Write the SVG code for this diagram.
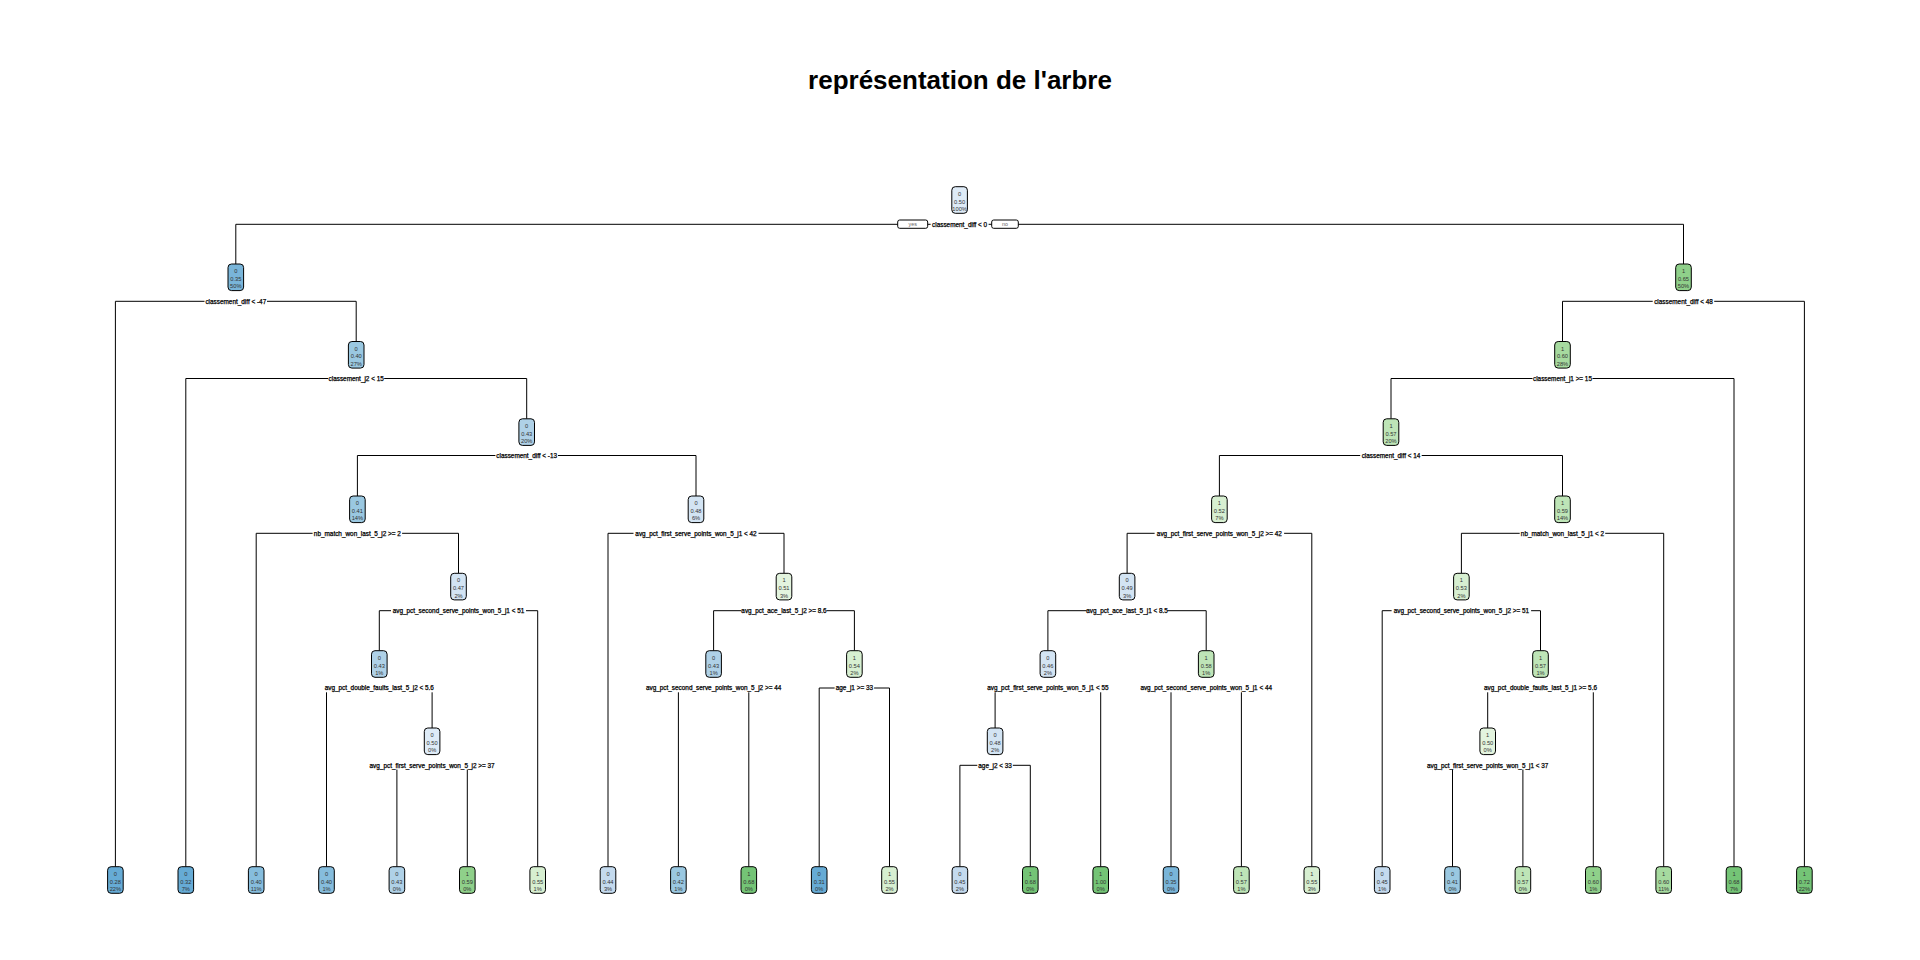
<svg xmlns="http://www.w3.org/2000/svg" width="1920" height="960" viewBox="0 0 1920 960">
<style>
.title{font-family:"Liberation Sans",Arial,sans-serif;font-weight:bold;font-size:26px;fill:#000;text-anchor:middle}
.conn path{fill:none;stroke:#000;stroke-width:1}
.lbl rect{fill:#fff;stroke:none}
.lbl text{font-family:"Liberation Sans",Arial,sans-serif;font-size:6.4px;fill:#000;stroke:#000;stroke-width:0.25;text-anchor:middle}
.node rect{stroke:#000;stroke-width:1}
.node text{font-family:"Liberation Sans",Arial,sans-serif;font-size:5.7px;fill:#333;text-anchor:middle}
.yn rect{fill:#fff;stroke:#000;stroke-width:1}
.yn text{font-family:"Liberation Sans",Arial,sans-serif;font-size:5.4px;fill:#666;text-anchor:middle}
.b1{fill:#66ABD5}.b2{fill:#79B5D9}.b2b{fill:#86BDDD}.b3{fill:#9AC8E1}.b4{fill:#AFD1E7}.b5{fill:#C4DAEE}.b6{fill:#D3E4F3}.b7{fill:#DEEBF7}
.g1{fill:#E3F4DE}.g2{fill:#D7EFD1}.g3{fill:#BEE5B7}.g4{fill:#A6DA9F}.g5{fill:#8FD08A}.g6{fill:#74C476}
</style>
<rect width="1920" height="960" fill="#fff"/>
<text class="title" x="960" y="89">représentation de l'arbre</text>

<g id="connectors" class="conn">
<path d="M235.8,264V224.3H1683.5V264"/>
<path d="M115.4,866.7V301.3H356.2V341.5"/>
<path d="M1562.5,341.5V301.3H1804.4V866.7"/>
<path d="M185.8,866.7V378.5H526.7V418.8"/>
<path d="M1391,418.8V378.5H1734V866.7"/>
<path d="M357.4,496V455.5H696V496"/>
<path d="M1219.4,496V455.5H1562.5V496"/>
<path d="M256.2,866.7V533.3H458.5V573.3"/>
<path d="M608,866.7V533.3H784V573.3"/>
<path d="M1127.1,573.3V533.3H1311.8V866.7"/>
<path d="M1461.4,573.3V533.3H1663.7V866.7"/>
<path d="M379.3,650.7V610.7H537.7V866.7"/>
<path d="M713.6,650.7V610.7H854.4V650.7"/>
<path d="M1047.9,650.7V610.7H1206.2V650.7"/>
<path d="M1382.2,866.7V610.7H1540.5V650.7"/>
<path d="M326.5,866.7V688H432.1V728"/>
<path d="M678.4,866.7V688H748.8V866.7"/>
<path d="M819.2,866.7V688H889.5V866.7"/>
<path d="M995.1,728V688H1100.7V866.7"/>
<path d="M1171,866.7V688H1241.4V866.7"/>
<path d="M1487.7,728V688H1593.3V866.7"/>
<path d="M396.9,866.7V765.3H467.3V866.7"/>
<path d="M959.9,866.7V765.3H1030.3V866.7"/>
<path d="M1452.5,866.7V765.3H1522.9V866.7"/>
</g>

<g id="split-labels" class="lbl">
<rect x="930.6" y="220.3" width="58" height="8.3"/><text x="959.6" y="226.6">classement_diff &lt; 0</text>
<rect x="204.5" y="297.3" width="62.5" height="8.3"/><text x="235.8" y="303.6">classement_diff &lt; -47</text>
<rect x="1652.7" y="297.3" width="61.5" height="8.3"/><text x="1683.5" y="303.6">classement_diff &lt; 48</text>
<rect x="328.2" y="374.5" width="56" height="8.3"/><text x="356.2" y="380.8">classement_j2 &lt; 15</text>
<rect x="1532.5" y="374.5" width="60" height="8.3"/><text x="1562.5" y="380.8">classement_j1 &gt;= 15</text>
<rect x="495.4" y="451.5" width="62.5" height="8.3"/><text x="526.7" y="457.8">classement_diff &lt; -13</text>
<rect x="1360.2" y="451.5" width="61.5" height="8.3"/><text x="1391" y="457.8">classement_diff &lt; 14</text>
<rect x="312.6" y="529.3" width="89.5" height="8.3"/><text x="357.4" y="535.6">nb_match_won_last_5_j2 &gt;= 2</text>
<rect x="633.5" y="529.3" width="125" height="8.3"/><text x="696" y="535.6">avg_pct_first_serve_points_won_5_j1 &lt; 42</text>
<rect x="1154.6" y="529.3" width="129.5" height="8.3"/><text x="1219.4" y="535.6">avg_pct_first_serve_points_won_5_j2 &gt;= 42</text>
<rect x="1519.7" y="529.3" width="85.5" height="8.3"/><text x="1562.5" y="535.6">nb_match_won_last_5_j1 &lt; 2</text>
<rect x="391" y="606.7" width="135" height="8.3"/><text x="458.5" y="613">avg_pct_second_serve_points_won_5_j1 &lt; 51</text>
<rect x="741.5" y="606.7" width="85" height="8.3"/><text x="784" y="613">avg_pct_ace_last_5_j2 &gt;= 8.6</text>
<rect x="1086.8" y="606.7" width="80.5" height="8.3"/><text x="1127.1" y="613">avg_pct_ace_last_5_j1 &lt; 8.5</text>
<rect x="1391.6" y="606.7" width="139.5" height="8.3"/><text x="1461.4" y="613">avg_pct_second_serve_points_won_5_j2 &gt;= 51</text>
<rect x="323.5" y="684" width="111.5" height="8.3"/><text x="379.3" y="690.3">avg_pct_double_faults_last_5_j2 &lt; 5.6</text>
<rect x="644.1" y="684" width="139" height="8.3"/><text x="713.6" y="690.3">avg_pct_second_serve_points_won_5_j2 &gt;= 44</text>
<rect x="834.6" y="684" width="39.5" height="8.3"/><text x="854.4" y="690.3">age_j1 &gt;= 33</text>
<rect x="985.1" y="684" width="125.5" height="8.3"/><text x="1047.9" y="690.3">avg_pct_first_serve_points_won_5_j1 &lt; 55</text>
<rect x="1138.4" y="684" width="135.5" height="8.3"/><text x="1206.2" y="690.3">avg_pct_second_serve_points_won_5_j1 &lt; 44</text>
<rect x="1482.7" y="684" width="115.5" height="8.3"/><text x="1540.5" y="690.3">avg_pct_double_faults_last_5_j1 &gt;= 5.6</text>
<rect x="367.1" y="761.3" width="130" height="8.3"/><text x="432.1" y="767.6">avg_pct_first_serve_points_won_5_j2 &gt;= 37</text>
<rect x="977.3" y="761.3" width="35.5" height="8.3"/><text x="995.1" y="767.6">age_j2 &lt; 33</text>
<rect x="1424.9" y="761.3" width="125.5" height="8.3"/><text x="1487.7" y="767.6">avg_pct_first_serve_points_won_5_j1 &lt; 37</text>
</g>

<g id="yes-no" class="yn">
<rect x="897.7" y="220" width="30" height="8.3" rx="2"/><text x="912.7" y="226.3">yes</text>
<rect x="991.7" y="220" width="26.6" height="8.3" rx="2"/><text x="1005" y="226.3">no</text>
</g>

<g id="nodes" class="node">
<g id="n1"><rect class="b7" x="951.8" y="186.7" width="15.6" height="26.6" rx="3.5"/><text x="959.6" y="195.7">0<tspan x="959.6" dy="7.8">0.50</tspan><tspan x="959.6" dy="7.6">100%</tspan></text></g>
<g id="n2"><rect class="b2" x="228" y="264" width="15.6" height="26.6" rx="3.5"/><text x="235.8" y="273">0<tspan x="235.8" dy="7.8">0.35</tspan><tspan x="235.8" dy="7.6">50%</tspan></text></g>
<g id="n3"><rect class="g5" x="1675.7" y="264" width="15.6" height="26.6" rx="3.5"/><text x="1683.5" y="273">1<tspan x="1683.5" dy="7.8">0.65</tspan><tspan x="1683.5" dy="7.6">50%</tspan></text></g>
<g id="n4"><rect class="b3" x="348.4" y="341.5" width="15.6" height="26.6" rx="3.5"/><text x="356.2" y="350.5">0<tspan x="356.2" dy="7.8">0.40</tspan><tspan x="356.2" dy="7.6">27%</tspan></text></g>
<g id="n7"><rect class="g4" x="1554.7" y="341.5" width="15.6" height="26.6" rx="3.5"/><text x="1562.5" y="350.5">1<tspan x="1562.5" dy="7.8">0.60</tspan><tspan x="1562.5" dy="7.6">28%</tspan></text></g>
<g id="n9"><rect class="b4" x="518.9" y="418.8" width="15.6" height="26.6" rx="3.5"/><text x="526.7" y="427.8">0<tspan x="526.7" dy="7.8">0.43</tspan><tspan x="526.7" dy="7.6">20%</tspan></text></g>
<g id="n14"><rect class="g3" x="1383.2" y="418.8" width="15.6" height="26.6" rx="3.5"/><text x="1391" y="427.8">1<tspan x="1391" dy="7.8">0.57</tspan><tspan x="1391" dy="7.6">20%</tspan></text></g>
<g id="n18"><rect class="b3" x="349.6" y="496" width="15.6" height="26.6" rx="3.5"/><text x="357.4" y="505">0<tspan x="357.4" dy="7.8">0.41</tspan><tspan x="357.4" dy="7.6">14%</tspan></text></g>
<g id="n19"><rect class="b6" x="688.2" y="496" width="15.6" height="26.6" rx="3.5"/><text x="696" y="505">0<tspan x="696" dy="7.8">0.48</tspan><tspan x="696" dy="7.6">6%</tspan></text></g>
<g id="n28"><rect class="g2" x="1211.6" y="496" width="15.6" height="26.6" rx="3.5"/><text x="1219.4" y="505">1<tspan x="1219.4" dy="7.8">0.52</tspan><tspan x="1219.4" dy="7.6">7%</tspan></text></g>
<g id="n29"><rect class="g3" x="1554.7" y="496" width="15.6" height="26.6" rx="3.5"/><text x="1562.5" y="505">1<tspan x="1562.5" dy="7.8">0.59</tspan><tspan x="1562.5" dy="7.6">14%</tspan></text></g>
<g id="n37"><rect class="b6" x="450.7" y="573.3" width="15.6" height="26.6" rx="3.5"/><text x="458.5" y="582.3">0<tspan x="458.5" dy="7.8">0.47</tspan><tspan x="458.5" dy="7.6">2%</tspan></text></g>
<g id="n39"><rect class="g1" x="776.2" y="573.3" width="15.6" height="26.6" rx="3.5"/><text x="784" y="582.3">1<tspan x="784" dy="7.8">0.51</tspan><tspan x="784" dy="7.6">3%</tspan></text></g>
<g id="n56"><rect class="b6" x="1119.3" y="573.3" width="15.6" height="26.6" rx="3.5"/><text x="1127.1" y="582.3">0<tspan x="1127.1" dy="7.8">0.49</tspan><tspan x="1127.1" dy="7.6">3%</tspan></text></g>
<g id="n58"><rect class="g2" x="1453.6" y="573.3" width="15.6" height="26.6" rx="3.5"/><text x="1461.4" y="582.3">1<tspan x="1461.4" dy="7.8">0.53</tspan><tspan x="1461.4" dy="7.6">2%</tspan></text></g>
<g id="n74"><rect class="b4" x="371.5" y="650.7" width="15.6" height="26.6" rx="3.5"/><text x="379.3" y="659.7">0<tspan x="379.3" dy="7.8">0.43</tspan><tspan x="379.3" dy="7.6">1%</tspan></text></g>
<g id="n78"><rect class="b4" x="705.8" y="650.7" width="15.6" height="26.6" rx="3.5"/><text x="713.6" y="659.7">0<tspan x="713.6" dy="7.8">0.43</tspan><tspan x="713.6" dy="7.6">1%</tspan></text></g>
<g id="n79"><rect class="g2" x="846.6" y="650.7" width="15.6" height="26.6" rx="3.5"/><text x="854.4" y="659.7">1<tspan x="854.4" dy="7.8">0.54</tspan><tspan x="854.4" dy="7.6">2%</tspan></text></g>
<g id="n112"><rect class="b6" x="1040.1" y="650.7" width="15.6" height="26.6" rx="3.5"/><text x="1047.9" y="659.7">0<tspan x="1047.9" dy="7.8">0.46</tspan><tspan x="1047.9" dy="7.6">2%</tspan></text></g>
<g id="n113"><rect class="g3" x="1198.4" y="650.7" width="15.6" height="26.6" rx="3.5"/><text x="1206.2" y="659.7">1<tspan x="1206.2" dy="7.8">0.58</tspan><tspan x="1206.2" dy="7.6">1%</tspan></text></g>
<g id="n117"><rect class="g3" x="1532.7" y="650.7" width="15.6" height="26.6" rx="3.5"/><text x="1540.5" y="659.7">1<tspan x="1540.5" dy="7.8">0.57</tspan><tspan x="1540.5" dy="7.6">1%</tspan></text></g>
<g id="n149"><rect class="b7" x="424.3" y="728" width="15.6" height="26.6" rx="3.5"/><text x="432.1" y="737">0<tspan x="432.1" dy="7.8">0.50</tspan><tspan x="432.1" dy="7.6">0%</tspan></text></g>
<g id="n224"><rect class="b6" x="987.3" y="728" width="15.6" height="26.6" rx="3.5"/><text x="995.1" y="737">0<tspan x="995.1" dy="7.8">0.48</tspan><tspan x="995.1" dy="7.6">2%</tspan></text></g>
<g id="n234"><rect class="g1" x="1479.9" y="728" width="15.6" height="26.6" rx="3.5"/><text x="1487.7" y="737">1<tspan x="1487.7" dy="7.8">0.50</tspan><tspan x="1487.7" dy="7.6">0%</tspan></text></g>

<g id="leaf1"><rect class="b1" x="107.6" y="866.7" width="15.6" height="26.6" rx="3.5"/><text x="115.4" y="875.7">0<tspan x="115.4" dy="7.8">0.28</tspan><tspan x="115.4" dy="7.6">22%</tspan></text></g>
<g id="leaf2"><rect class="b1" x="178" y="866.7" width="15.6" height="26.6" rx="3.5"/><text x="185.8" y="875.7">0<tspan x="185.8" dy="7.8">0.32</tspan><tspan x="185.8" dy="7.6">7%</tspan></text></g>
<g id="leaf3"><rect class="b2b" x="248.4" y="866.7" width="15.6" height="26.6" rx="3.5"/><text x="256.2" y="875.7">0<tspan x="256.2" dy="7.8">0.40</tspan><tspan x="256.2" dy="7.6">11%</tspan></text></g>
<g id="leaf4"><rect class="b2b" x="318.7" y="866.7" width="15.6" height="26.6" rx="3.5"/><text x="326.5" y="875.7">0<tspan x="326.5" dy="7.8">0.40</tspan><tspan x="326.5" dy="7.6">1%</tspan></text></g>
<g id="leaf5"><rect class="b4" x="389.1" y="866.7" width="15.6" height="26.6" rx="3.5"/><text x="396.9" y="875.7">0<tspan x="396.9" dy="7.8">0.43</tspan><tspan x="396.9" dy="7.6">0%</tspan></text></g>
<g id="leaf6"><rect class="g5" x="459.5" y="866.7" width="15.6" height="26.6" rx="3.5"/><text x="467.3" y="875.7">1<tspan x="467.3" dy="7.8">0.59</tspan><tspan x="467.3" dy="7.6">0%</tspan></text></g>
<g id="leaf7"><rect class="g2" x="529.9" y="866.7" width="15.6" height="26.6" rx="3.5"/><text x="537.7" y="875.7">1<tspan x="537.7" dy="7.8">0.55</tspan><tspan x="537.7" dy="7.6">1%</tspan></text></g>
<g id="leaf8"><rect class="b5" x="600.2" y="866.7" width="15.6" height="26.6" rx="3.5"/><text x="608" y="875.7">0<tspan x="608" dy="7.8">0.44</tspan><tspan x="608" dy="7.6">3%</tspan></text></g>
<g id="leaf9"><rect class="b3" x="670.6" y="866.7" width="15.6" height="26.6" rx="3.5"/><text x="678.4" y="875.7">0<tspan x="678.4" dy="7.8">0.42</tspan><tspan x="678.4" dy="7.6">1%</tspan></text></g>
<g id="leaf10"><rect class="g6" x="741" y="866.7" width="15.6" height="26.6" rx="3.5"/><text x="748.8" y="875.7">1<tspan x="748.8" dy="7.8">0.68</tspan><tspan x="748.8" dy="7.6">0%</tspan></text></g>
<g id="leaf11"><rect class="b1" x="811.4" y="866.7" width="15.6" height="26.6" rx="3.5"/><text x="819.2" y="875.7">0<tspan x="819.2" dy="7.8">0.31</tspan><tspan x="819.2" dy="7.6">0%</tspan></text></g>
<g id="leaf12"><rect class="g2" x="881.7" y="866.7" width="15.6" height="26.6" rx="3.5"/><text x="889.5" y="875.7">1<tspan x="889.5" dy="7.8">0.55</tspan><tspan x="889.5" dy="7.6">2%</tspan></text></g>
<g id="leaf13"><rect class="b5" x="952.1" y="866.7" width="15.6" height="26.6" rx="3.5"/><text x="959.9" y="875.7">0<tspan x="959.9" dy="7.8">0.45</tspan><tspan x="959.9" dy="7.6">2%</tspan></text></g>
<g id="leaf14"><rect class="g6" x="1022.5" y="866.7" width="15.6" height="26.6" rx="3.5"/><text x="1030.3" y="875.7">1<tspan x="1030.3" dy="7.8">0.68</tspan><tspan x="1030.3" dy="7.6">0%</tspan></text></g>
<g id="leaf15"><rect class="g6" x="1092.9" y="866.7" width="15.6" height="26.6" rx="3.5"/><text x="1100.7" y="875.7">1<tspan x="1100.7" dy="7.8">1.00</tspan><tspan x="1100.7" dy="7.6">0%</tspan></text></g>
<g id="leaf16"><rect class="b2" x="1163.2" y="866.7" width="15.6" height="26.6" rx="3.5"/><text x="1171" y="875.7">0<tspan x="1171" dy="7.8">0.35</tspan><tspan x="1171" dy="7.6">0%</tspan></text></g>
<g id="leaf17"><rect class="g3" x="1233.6" y="866.7" width="15.6" height="26.6" rx="3.5"/><text x="1241.4" y="875.7">1<tspan x="1241.4" dy="7.8">0.57</tspan><tspan x="1241.4" dy="7.6">1%</tspan></text></g>
<g id="leaf18"><rect class="g2" x="1304" y="866.7" width="15.6" height="26.6" rx="3.5"/><text x="1311.8" y="875.7">1<tspan x="1311.8" dy="7.8">0.55</tspan><tspan x="1311.8" dy="7.6">3%</tspan></text></g>
<g id="leaf19"><rect class="b5" x="1374.4" y="866.7" width="15.6" height="26.6" rx="3.5"/><text x="1382.2" y="875.7">0<tspan x="1382.2" dy="7.8">0.45</tspan><tspan x="1382.2" dy="7.6">1%</tspan></text></g>
<g id="leaf20"><rect class="b3" x="1444.7" y="866.7" width="15.6" height="26.6" rx="3.5"/><text x="1452.5" y="875.7">0<tspan x="1452.5" dy="7.8">0.41</tspan><tspan x="1452.5" dy="7.6">0%</tspan></text></g>
<g id="leaf21"><rect class="g3" x="1515.1" y="866.7" width="15.6" height="26.6" rx="3.5"/><text x="1522.9" y="875.7">1<tspan x="1522.9" dy="7.8">0.57</tspan><tspan x="1522.9" dy="7.6">0%</tspan></text></g>
<g id="leaf22"><rect class="g5" x="1585.5" y="866.7" width="15.6" height="26.6" rx="3.5"/><text x="1593.3" y="875.7">1<tspan x="1593.3" dy="7.8">0.60</tspan><tspan x="1593.3" dy="7.6">1%</tspan></text></g>
<g id="leaf23"><rect class="g4" x="1655.9" y="866.7" width="15.6" height="26.6" rx="3.5"/><text x="1663.7" y="875.7">1<tspan x="1663.7" dy="7.8">0.60</tspan><tspan x="1663.7" dy="7.6">11%</tspan></text></g>
<g id="leaf24"><rect class="g6" x="1726.2" y="866.7" width="15.6" height="26.6" rx="3.5"/><text x="1734" y="875.7">1<tspan x="1734" dy="7.8">0.68</tspan><tspan x="1734" dy="7.6">7%</tspan></text></g>
<g id="leaf25"><rect class="g6" x="1796.6" y="866.7" width="15.6" height="26.6" rx="3.5"/><text x="1804.4" y="875.7">1<tspan x="1804.4" dy="7.8">0.72</tspan><tspan x="1804.4" dy="7.6">22%</tspan></text></g>
</g>
</svg>
